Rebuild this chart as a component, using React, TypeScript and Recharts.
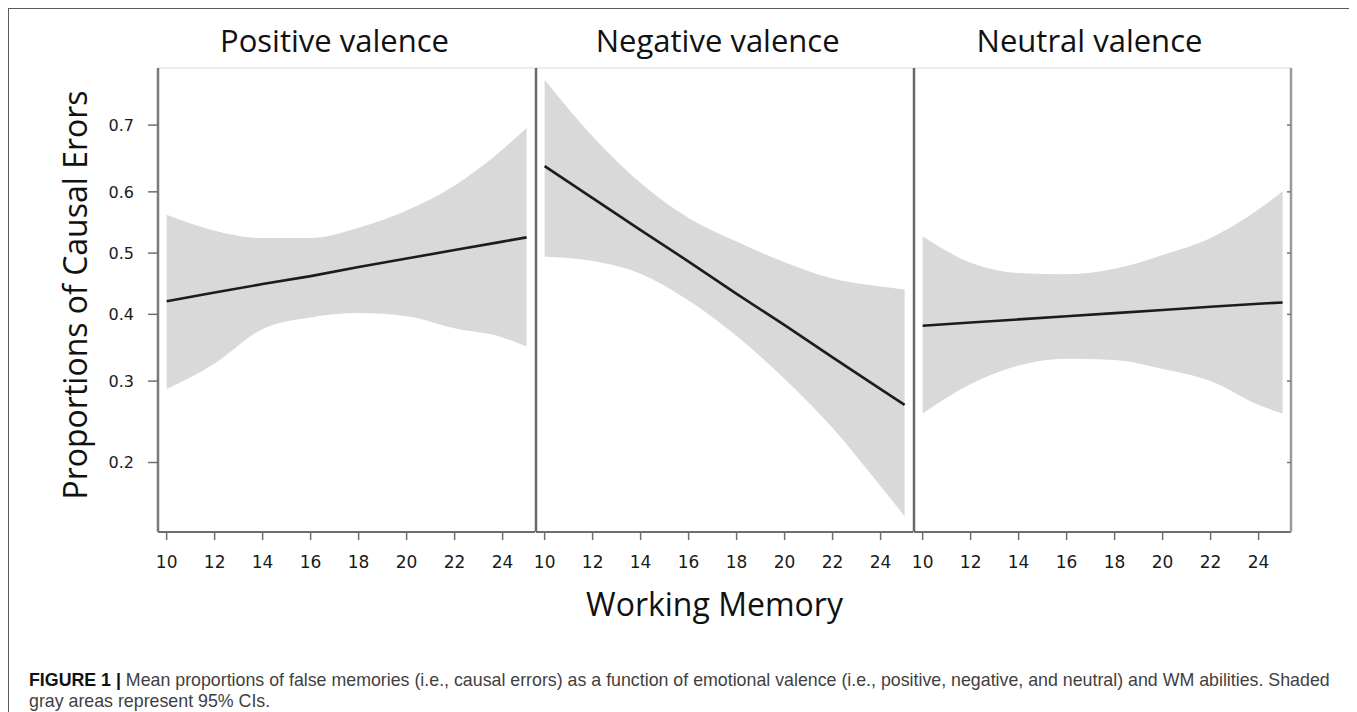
import React from "react";
import { ComposedChart, Area, Line, XAxis, YAxis, ReferenceLine } from "recharts";

// Working memory score (x positions where values were read)
const wm = [10, 12, 14, 16, 18, 20, 22, 24, 25];
const xTicks = [10, 12, 14, 16, 18, 20, 22, 24];
const xDomain = [9.64, 25.35];

// Proportions of causal errors (probability scale)
const yTickValues = [0.2, 0.3, 0.4, 0.5, 0.6, 0.7];
const yDomainP = [0.1363, 0.773];

const panelTitles = ["Positive valence", "Negative valence", "Neutral valence"];

const posMean = [0.421, 0.435, 0.449, 0.462, 0.477, 0.491, 0.505, 0.519, 0.526];
const posUpper = [0.563, 0.537, 0.525, 0.525, 0.542, 0.57, 0.61, 0.665, 0.696];
const posLower = [0.289, 0.325, 0.377, 0.395, 0.402, 0.397, 0.378, 0.364, 0.35];

const negMean = [0.64, 0.59, 0.538, 0.486, 0.433, 0.383, 0.334, 0.289, 0.268];
const negUpper = [0.759, 0.684, 0.614, 0.558, 0.519, 0.485, 0.458, 0.445, 0.44];
const negLower = [0.494, 0.487, 0.466, 0.422, 0.366, 0.303, 0.239, 0.176, 0.149];

const neuMean = [0.382, 0.387, 0.392, 0.397, 0.402, 0.407, 0.412, 0.417, 0.419];
const neuUpper = [0.528, 0.484, 0.467, 0.465, 0.474, 0.497, 0.525, 0.572, 0.601];
const neuLower = [0.257, 0.296, 0.322, 0.332, 0.33, 0.317, 0.3, 0.268, 0.257];

const logit = (p: number) => Math.log(p / (1 - p));
const invLogit = (v: number) => 1 / (1 + Math.exp(-v));

const yDomain = [logit(yDomainP[0]), logit(yDomainP[1])];
const yTicks = yTickValues.map(logit);

const PLOT_W = 377;
const PLOT_H = 464;
const TOP = 60;
const YAX_W = 80;
const RIGHT_W = 20;

type PanelProps = {
  mean: number[];
  upper: number[];
  lower: number[];
  plotLeft: number;
  first?: boolean;
  last?: boolean;
};

function Panel({ mean, upper, lower, plotLeft, first, last }: PanelProps) {
  const data = wm.map((x, i) => ({
    x,
    band: [logit(lower[i]), logit(upper[i])],
    mean: logit(mean[i]),
  }));
  return (
    <div style={{ position: "absolute", left: plotLeft - 8 - YAX_W, top: 0 }}>
      <ComposedChart
        width={YAX_W + PLOT_W + RIGHT_W}
        height={TOP + PLOT_H + 50}
        data={data}
        margin={{ top: TOP, right: RIGHT_W, bottom: 0, left: 0 }}
      >
        <XAxis
          dataKey="x"
          type="number"
          domain={xDomain}
          ticks={xTicks}
          allowDataOverflow
          height={50}
          tickSize={8}
          tickMargin={16}
          axisLine={{ stroke: "#6e6e6e", strokeWidth: 2 }}
          tickLine={{ stroke: "#6e6e6e", strokeWidth: 1.5 }}
          tick={{ fill: "#1a1a1a", fontSize: 17, fontFamily: "DejaVu Sans" }}
        />
        <YAxis
          type="number"
          domain={yDomain}
          ticks={yTicks}
          allowDataOverflow
          width={YAX_W}
          tickSize={first ? 10 : 0}
          tickMargin={14}
          tick={first ? { fill: "#1a1a1a", fontSize: 16, fontFamily: "DejaVu Sans" } : false}
          tickLine={first ? { stroke: "#6e6e6e", strokeWidth: 1.5 } : false}
          axisLine={{ stroke: first ? "#7a7a7a" : "#6a6a6a", strokeWidth: 2.5 }}
          tickFormatter={(v: number) => invLogit(v).toFixed(1)}
        />
        {last && (
          <YAxis
            yAxisId="r"
            orientation="right"
            type="number"
            domain={yDomain}
            ticks={yTicks}
            allowDataOverflow
            width={RIGHT_W}
            mirror
            tickSize={4}
            tickFormatter={() => ""}
            tickLine={{ stroke: "#777", strokeWidth: 1.5 }}
            axisLine={{ stroke: "#9a9a9a", strokeWidth: 2.5 }}
          />
        )}
        <ReferenceLine y={yDomain[1]} stroke="#e6e6e6" strokeWidth={1.5} />
        <Area
          dataKey="band"
          type="monotone"
          fill="#d9d9d9"
          fillOpacity={1}
          stroke="none"
          isAnimationActive={false}
        />
        <Line
          dataKey="mean"
          type="linear"
          stroke="#1c1c1c"
          strokeWidth={2.6}
          dot={false}
          isAnimationActive={false}
        />
      </ComposedChart>
    </div>
  );
}

export default function App() {
  const titleStyle = { fontFamily: "Open Sans", fontSize: 31, fill: "#111" } as const;
  return (
    <div style={{ position: "relative", width: 1349, height: 704, overflow: "hidden", background: "#fff" }}>
      <div
        style={{
          position: "absolute",
          left: 0,
          top: 0,
          width: 1348,
          height: 720,
          boxSizing: "border-box",
          borderTop: "1.5px solid #5a5a5a",
          borderLeft: "1.5px solid #5a5a5a",
          borderRight: "1.5px solid #5a5a5a",
        }}
      />
      <Panel mean={posMean} upper={posUpper} lower={posLower} plotLeft={158} first />
      <Panel mean={negMean} upper={negUpper} lower={negLower} plotLeft={536} />
      <Panel mean={neuMean} upper={neuUpper} lower={neuLower} plotLeft={914} last />
      <svg
        width={1349}
        height={704}
        style={{ position: "absolute", left: 0, top: 0, pointerEvents: "none" }}
      >
        <text x={326.5} y={44} textAnchor="middle" style={titleStyle}>
          {panelTitles[0]}
        </text>
        <text x={709.7} y={44} textAnchor="middle" style={titleStyle}>
          {panelTitles[1]}
        </text>
        <text x={1081.5} y={44} textAnchor="middle" style={titleStyle}>
          {panelTitles[2]}
        </text>
        <text
          x={79}
          y={287}
          textAnchor="middle"
          transform="rotate(-90, 79, 287)"
          style={{ fontFamily: "Open Sans", fontSize: 32, fill: "#111" }}
        >
          Proportions of Causal Erors
        </text>
        <text
          x={706.5}
          y={608}
          textAnchor="middle"
          style={{ fontFamily: "Open Sans", fontSize: 32, fill: "#111" }}
        >
          Working Memory
        </text>
      </svg>
      <div
        style={{
          position: "absolute",
          left: 21,
          top: 662,
          fontFamily: "Liberation Sans",
          fontSize: 17.8,
          lineHeight: "21px",
          color: "#3f3f3f",
          whiteSpace: "nowrap",
        }}
      >
        <b style={{ color: "#111" }}>FIGURE 1 |</b> Mean proportions of false memories (i.e., causal errors) as a
        function of emotional valence (i.e., positive, negative, and neutral) and WM abilities. Shaded
        <br />
        gray areas represent 95% CIs.
      </div>
    </div>
  );
}
